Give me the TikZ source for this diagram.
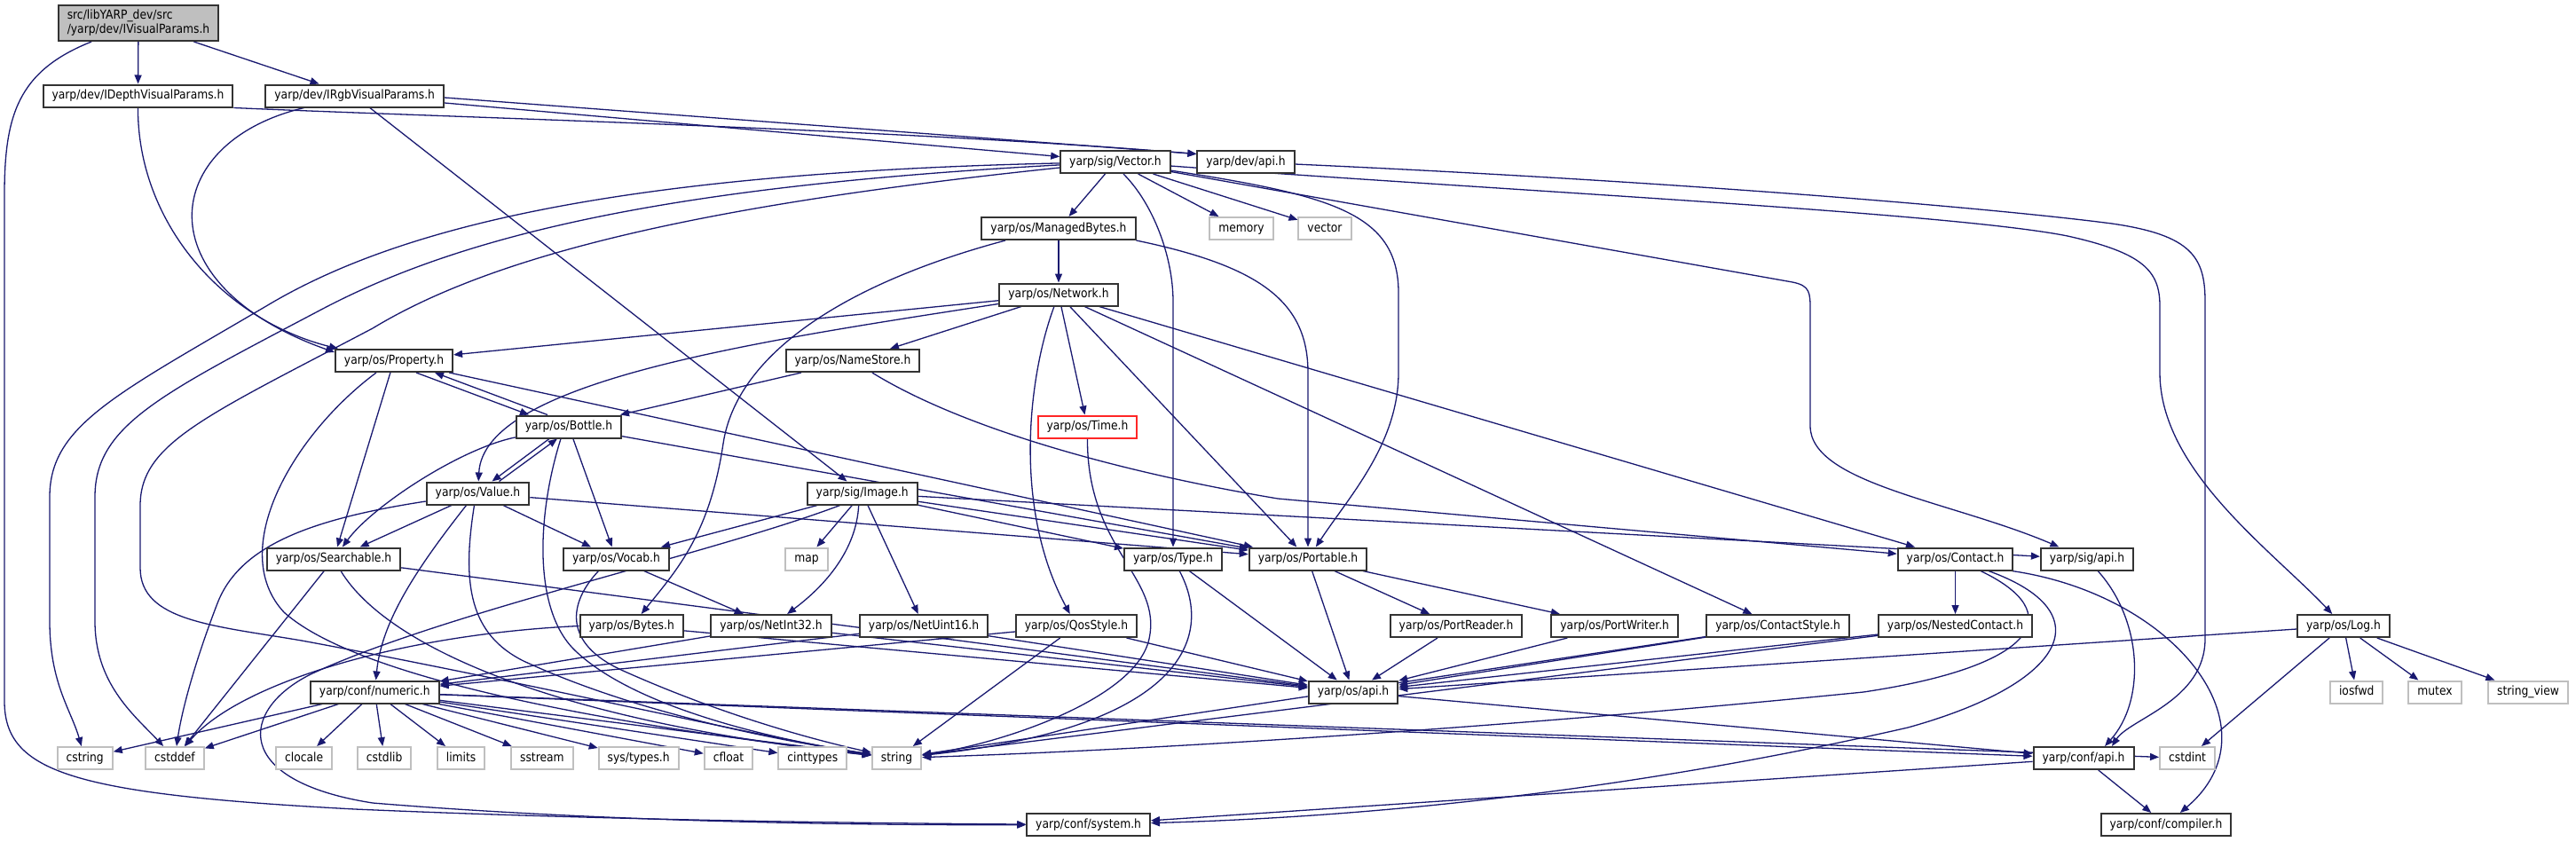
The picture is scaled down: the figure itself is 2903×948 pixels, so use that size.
\documentclass[tikz,border=0pt]{standalone}
\usepackage{fontspec}
\setmainfont{DejaVu Sans}[FakeStretch=0.88]
\usetikzlibrary{arrows.meta,positioning,backgrounds}
\definecolor{edgeblue}{HTML}{191970}
\definecolor{boxgray}{HTML}{BFBFBF}

\begin{document}
\begin{tikzpicture}[x=1pt, y=-1pt,
    hdr/.style={draw=black!80, line width=2pt, fill=white, font=\fontsize{14}{16}\selectfont,
      inner xsep=10pt, inner ysep=0pt, minimum height=25pt, text height=10.5pt, text depth=3.5pt},
    std/.style={hdr, draw=boxgray},
    nodoc/.style={hdr, draw=red!85},
    root/.style={hdr, fill=boxgray, align=left, minimum height=40pt, text height=, text depth=},
    arrow/.style={-{Triangle[length=10pt,width=8pt]}, draw=edgeblue, line width=1.3pt}]

    \useasboundingbox (0,0) rectangle (2903,948);

    % top rows
    \node[root] (root) at (156,26) {src/libYARP\_dev/src\\/yarp/dev/IVisualParams.h};
    \node[hdr] (idepth) at (155.5,108) {yarp/dev/IDepthVisualParams.h};
    \node[hdr] (irgb) at (399.7,108) {yarp/dev/IRgbVisualParams.h};
    \node[hdr] (vector) at (1257,182.5) {yarp/sig/Vector.h};
    \node[hdr] (devapi) at (1404,182.5) {yarp/dev/api.h};
    \node[hdr] (mbytes) at (1193,257.5) {yarp/os/ManagedBytes.h};
    \node[std] (memory) at (1399,257.5) {memory};
    \node[std] (vectorstd) at (1493,257.5) {vector};
    \node[hdr] (network) at (1193,332) {yarp/os/Network.h};
    \node[hdr] (property) at (444,406.5) {yarp/os/Property.h};
    \node[hdr] (namestore) at (961,406.5) {yarp/os/NameStore.h};
    \node[hdr] (bottle) at (641,481) {yarp/os/Bottle.h};
    \node[nodoc] (time) at (1225.5,481) {yarp/os/Time.h};
    \node[hdr] (value) at (538.5,556) {yarp/os/Value.h};
    \node[hdr] (image) at (971.7,556) {yarp/sig/Image.h};

    % middle rows
    \node[hdr] (searchable) at (376,630) {yarp/os/Searchable.h};
    \node[hdr] (vocab) at (694.5,630) {yarp/os/Vocab.h};
    \node[std] (map) at (909,630) {map};
    \node[hdr] (type) at (1322,630) {yarp/os/Type.h};
    \node[hdr] (portable) at (1474,630) {yarp/os/Portable.h};
    \node[hdr] (contact) at (2203.5,630) {yarp/os/Contact.h};
    \node[hdr] (sigapi) at (2352,630) {yarp/sig/api.h};
    \node[hdr] (bytes) at (711.7,705.5) {yarp/os/Bytes.h};
    \node[hdr] (netint32) at (869,705.5) {yarp/os/NetInt32.h};
    \node[hdr] (netuint16) at (1041,705.5) {yarp/os/NetUint16.h};
    \node[hdr] (qosstyle) at (1213,705.5) {yarp/os/QosStyle.h};
    \node[hdr] (portreader) at (1641,705.5) {yarp/os/PortReader.h};
    \node[hdr] (portwriter) at (1819.7,705.5) {yarp/os/PortWriter.h};
    \node[hdr] (contactstyle) at (2003.6,705.5) {yarp/os/ContactStyle.h};
    \node[hdr] (nested) at (2203.5,705.5) {yarp/os/NestedContact.h};
    \node[hdr] (log) at (2641,705.5) {yarp/os/Log.h};
    \node[hdr] (numeric) at (422.3,780) {yarp/conf/numeric.h};
    \node[hdr] (osapi) at (1525,780) {yarp/os/api.h};
    \node[std] (iosfwd) at (2655.7,780) {iosfwd};
    \node[std] (mutex) at (2744,780) {mutex};
    \node[std] (stringview) at (2849,780) {string\_view};

    % bottom rows
    \node[std] (cstring) at (95.7,854.5) {cstring};
    \node[std] (cstddef) at (197,854.5) {cstddef};
    \node[std] (clocale) at (342.7,854.5) {clocale};
    \node[std] (cstdlib) at (433.2,854.5) {cstdlib};
    \node[std] (limits) at (519.6,854.5) {limits};
    \node[std] (sstream) at (610.9,854.5) {sstream};
    \node[std] (systypes) at (719.7,854.5) {sys/types.h};
    \node[std] (cfloat) at (821,854.5) {cfloat};
    \node[std] (cinttypes) at (915.8,854.5) {cinttypes};
    \node[std] (string) at (1010.5,854.5) {string};
    \node[hdr] (confapi) at (2348,854.5) {yarp/conf/api.h};
    \node[std] (cstdint) at (2465,854.5) {cstdint};
    \node[hdr] (system) at (1226.6,929.5) {yarp/conf/system.h};
    \node[hdr] (compiler) at (2441,929.5) {yarp/conf/compiler.h};

    \begin{scope}[on background layer]
    \fill[white] (0,0) rectangle (2903,948);

    % IVisualParams and the two interfaces
    \draw[arrow] (root) -- (idepth);
    \draw[arrow] (root) -- (irgb);
    \draw[arrow] (root) .. controls (20,80) and (5,130) .. (5,220) -- (5,790)
        .. controls (5,870) and (80,895) .. (400,912) .. controls (700,925) and (1000,928) .. (system);
    \draw[arrow] (idepth.south east) .. controls (500,132) and (1000,145) .. ([yshift=9pt]devapi.west);
    \draw[arrow] (idepth) .. controls (155,250) and (250,360) .. ([xshift=4pt]property.north west);
    \draw[arrow] (irgb) .. controls (180,160) and (160,320) .. ([yshift=-4pt]property.north west);
    \draw[arrow] ([yshift=-2pt]irgb.east) -- ([yshift=9pt]devapi.west);
    \draw[arrow] ([yshift=-8pt]irgb.east) -- ([yshift=6pt]vector.west);
    \draw[arrow] (irgb) -- (image);
    \draw[arrow] (devapi) .. controls (1900,205) and (2250,235) .. (2380,252)
        .. controls (2470,265) and (2485,290) .. (2485,340) -- (2485,720)
        .. controls (2485,790) and (2400,810) .. ([xshift=32pt]confapi.north);

    % Vector.h
    \draw[arrow] (vector) -- (mbytes);
    \draw[arrow] (vector) -- (memory);
    \draw[arrow] (vector) -- (vectorstd);
    \draw[arrow] ([xshift=9pt]vector.south) .. controls (1300,230) and (1322,290) .. (1322,340) -- (type);
    \draw[arrow] (vector) .. controls (1500,220) and (1576,240) .. (1576,330) -- (1576,420)
        .. controls (1576,500) and (1520,560) .. (portable);
    \draw[arrow] (vector) -- (2020,318) .. controls (2040,322) and (2040,330) .. (2040,350) -- (2040,480)
        .. controls (2040,545) and (2200,565) .. (sigapi);
    \draw[arrow] (vector) .. controls (1700,215) and (2200,240) .. (2330,266)
        .. controls (2415,285) and (2434,305) .. (2434,345) -- (2434,420)
        .. controls (2434,530) and (2560,620) .. (log);
    \draw[arrow] (vector) .. controls (700,195) and (450,255) .. (300,345)
        .. controls (130,445) and (56,480) .. (56,560) -- (56,700) .. controls (56,770) and (80,800) .. (cstring);
    \draw[arrow] (vector) .. controls (750,210) and (520,265) .. (360,350)
        .. controls (180,445) and (107,480) .. (107,560) -- (107,700) .. controls (107,770) and (150,805) .. (cstddef);
    \draw[arrow] (vector) .. controls (800,230) and (560,285) .. (420,370)
        .. controls (230,470) and (158,500) .. (158,570) -- (158,640)
        .. controls (158,700) and (240,705) .. (340,722) .. controls (600,770) and (850,830) .. (string);

    % ManagedBytes.h and Network.h
    \draw[arrow] (mbytes) -- (network);
    \draw[arrow] (mbytes.south east) .. controls (1420,300) and (1474,340) .. (1474,420) -- (portable);
    \draw[arrow] ([xshift=-60pt]mbytes.south) .. controls (950,320) and (830,400) .. (815,500)
        .. controls (800,600) and (765,640) .. (bytes);
    \draw[arrow] (network) -- (property);
    \draw[arrow] (network) .. controls (850,385) and (545,430) .. (value);
    \draw[arrow] (network) -- (namestore);
    \draw[arrow] (network) -- (time);
    \draw[arrow] (network) .. controls (1160,420) and (1140,570) .. (qosstyle);
    \draw[arrow] (network) -- (portable);
    \draw[arrow] (network) -- (contactstyle);
    \draw[arrow] (network) -- (contact);
    \draw[arrow] (namestore) -- (bottle);
    \draw[arrow] (namestore) .. controls (1080,480) and (1250,530) .. (1440,562) -- (contact);

    % Property.h, Bottle.h, Value.h
    \draw[arrow] ([xshift=25pt]property.south) -- ([xshift=-45pt]bottle.north);
    \draw[arrow] ([xshift=-24pt]bottle.north) -- ([xshift=46pt]property.south);
    \draw[arrow] (property) -- (searchable);
    \draw[arrow] (property) -- (portable);
    \draw[arrow] ([xshift=-20pt]property.south) .. controls (330,490) and (255,620) .. (320,690)
        .. controls (420,780) and (800,830) .. (string);
    \draw[arrow] ([xshift=-22pt]bottle.south) -- ([xshift=16pt]value.north);
    \draw[arrow] ([xshift=24pt]value.north) -- ([xshift=-13pt]bottle.south);
    \draw[arrow] (bottle) .. controls (520,505) and (420,570) .. (searchable);
    \draw[arrow] (bottle) -- (vocab);
    \draw[arrow] ([xshift=-9pt]bottle.south) .. controls (605,580) and (600,690) .. (650,735)
        .. controls (720,800) and (880,835) .. (string);
    \draw[arrow] (bottle) -- (portable);
    \draw[arrow] (value) -- (searchable);
    \draw[arrow] (value) -- (vocab);
    \draw[arrow] (value) .. controls (350,585) and (270,615) .. (245,680)
        .. controls (220,745) and (205,800) .. (cstddef);
    \draw[arrow] ([xshift=-13pt]value.south) .. controls (470,640) and (430,700) .. (numeric);
    \draw[arrow] ([xshift=-4pt]value.south) .. controls (520,660) and (530,715) .. (590,745)
        .. controls (720,805) and (880,835) .. (string);
    \draw[arrow] (value) -- (portable);

    % Image.h
    \draw[arrow] (image) -- (vocab);
    \draw[arrow] (image) -- (map);
    \draw[arrow] ([xshift=-4pt]image.south) .. controls (965,620) and (930,660) .. (netint32);
    \draw[arrow] (image) -- (netuint16);
    \draw[arrow] (image) -- (type);
    \draw[arrow] (image) -- (portable);
    \draw[arrow] (image) -- (sigapi);
    \draw[arrow] ([xshift=-25pt]image.south) .. controls (800,625) and (500,690) .. (350,760)
        .. controls (270,800) and (260,880) .. (420,905) .. controls (700,928) and (1000,930) .. (system);

    % middle headers
    \draw[arrow] (searchable) -- (osapi);
    \draw[arrow] (searchable) -- (cstddef);
    \draw[arrow] (searchable) .. controls (430,720) and (600,810) .. (string);
    \draw[arrow] ([xshift=-20pt]vocab.south) .. controls (640,680) and (635,725) .. (700,755)
        .. controls (800,800) and (900,830) .. (string);
    \draw[arrow] (vocab) -- (netint32);
    \draw[arrow] (type) .. controls (1370,720) and (1330,820) .. (string);
    \draw[arrow] (type) -- (osapi);
    \draw[arrow] (time) .. controls (1225,620) and (1310,650) .. (1295,720)
        .. controls (1280,790) and (1120,840) .. (string);
    \draw[arrow] (portable) -- (osapi);
    \draw[arrow] (portable) -- (portreader);
    \draw[arrow] (portable) -- (portwriter);
    \draw[arrow] (bytes) -- (osapi);
    \draw[arrow] (bytes.west) .. controls (450,715) and (270,770) .. (cstddef);
    \draw[arrow] (netint32) -- (numeric);
    \draw[arrow] (netint32) -- (osapi);
    \draw[arrow] (netuint16) -- (numeric);
    \draw[arrow] (netuint16) -- (osapi);
    \draw[arrow] (qosstyle) -- (numeric);
    \draw[arrow] (qosstyle) -- (string);
    \draw[arrow] (qosstyle) -- (osapi);
    \draw[arrow] (portreader) -- (osapi);
    \draw[arrow] (portwriter) -- (osapi);
    \draw[arrow] (contactstyle) -- (osapi);
    \draw[arrow] (contactstyle) -- (string);

    % Contact.h and right side
    \draw[arrow] (contact) -- (nested);
    \draw[arrow] (nested) -- (osapi);
    \draw[arrow] (nested) -- (string);
    \draw[arrow] (contact) .. controls (2330,690) and (2300,750) .. (2100,780)
        .. controls (1700,820) and (1300,845) .. (string);
    \draw[arrow] (contact) .. controls (2370,690) and (2330,770) .. (2150,820)
        .. controls (1800,900) and (1500,922) .. (system);
    \draw[arrow] ([xshift=-2pt]contact.south east) .. controls (2450,670) and (2570,820) .. (compiler);
    \draw[arrow] (sigapi) .. controls (2415,700) and (2418,790) .. ([xshift=24pt]confapi.north);
    \draw[arrow] (log) -- (osapi);
    \draw[arrow] (log) -- (cstdint);
    \draw[arrow] (log) -- (iosfwd);
    \draw[arrow] (log) -- (mutex);
    \draw[arrow] (log) -- (stringview);

    % numeric.h
    \foreach \t in {cstring,cstddef,clocale,cstdlib,limits,sstream,systypes,cfloat,cinttypes,string,cstdint,confapi}
        \draw[arrow] (numeric) -- (\t);

    % api headers
    \draw[arrow] (osapi) -- (confapi);
    \draw[arrow] (confapi) -- (compiler);
    \draw[arrow] (confapi) -- (system);
    \end{scope}
\end{tikzpicture}
\end{document}
